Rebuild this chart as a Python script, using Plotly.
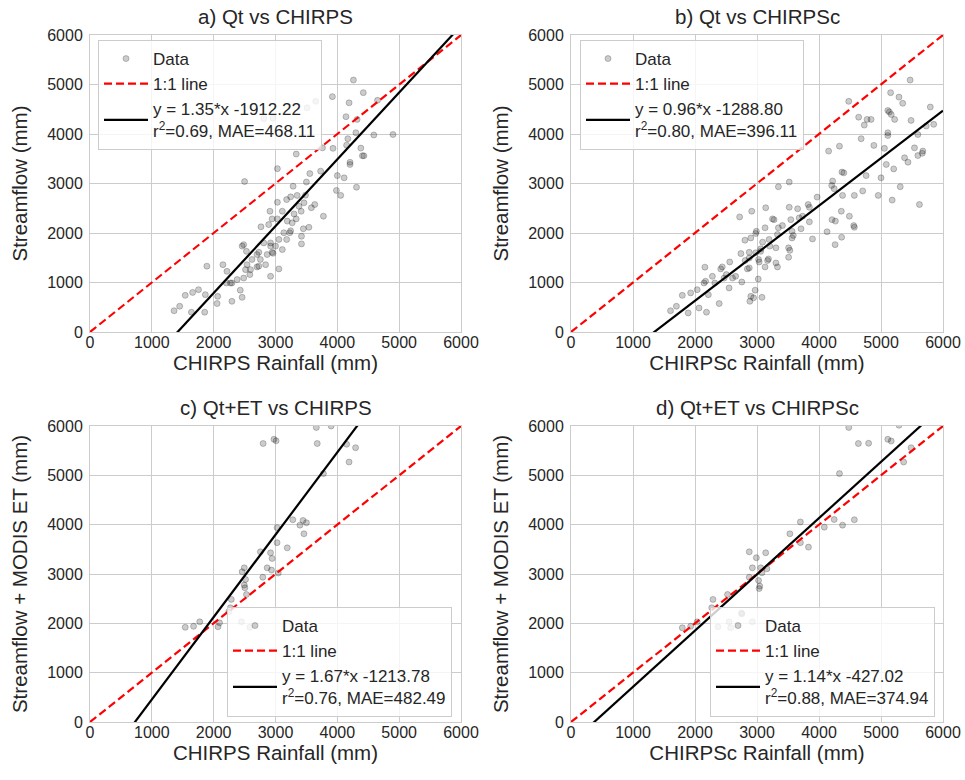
import plotly.graph_objects as go
from plotly.subplots import make_subplots

# a) Qt vs CHIRPS  (rainfall, streamflow)
a_rain = [4260, 4420, 3920, 3650, 3510, 4190, 4650, 4140, 4320, 2810, 2960, 4590, 4900, 4300, 4170,
          3760, 3930, 4150, 4380, 4405, 4430, 3335, 3030, 4205, 4205, 4000, 4110, 3555, 3730, 2500,
          4310, 3985, 4055, 3500, 3285, 3350, 3245, 3180, 3030, 3485, 3460, 3380, 3415, 3635, 3580,
          3775, 2910, 3110, 3300, 3335, 3190, 3270, 3030, 2945, 2890, 2765, 3540, 3450, 3245, 3230,
          3135, 3420, 3055, 3180, 2920, 2810, 2920, 3000, 3420, 3110, 2945, 2865, 2730, 2700, 2485,
          2460, 2530, 2620, 2755, 2840, 2700, 2960, 2540, 2515, 2585, 2485, 2595, 2730, 3055, 2920,
          2215, 2150, 1890, 2380, 2270, 2205, 2295, 2430, 2460, 2295, 2065, 2055, 1865, 1755, 1660,
          1540, 1450, 1360, 1640, 1855]
a_flow = [5090, 4835, 4755, 4660, 4530, 4630, 4680, 4350, 4295, 4310, 4320, 3980, 3990, 4025, 3905,
          3720, 3710, 3775, 3715, 3560, 3560, 3595, 3300, 3430, 3385, 3160, 3115, 3200, 3250, 3040,
          2925, 2860, 2760, 3030, 2945, 2760, 2730, 2675, 2620, 2765, 2610, 2540, 2440, 2575, 2510,
          2340, 2440, 2440, 2385, 2285, 2240, 2205, 2285, 2285, 2170, 2125, 2115, 2085, 2045, 2005,
          2005, 1935, 1870, 1870, 1800, 1800, 1735, 1735, 1780, 1665, 1610, 1565, 1610, 1565, 1765,
          1735, 1630, 1465, 1465, 1360, 1315, 1590, 1360, 1260, 1160, 1090, 1260, 1330, 1275, 1125,
          1225, 1360, 1330, 1060, 990, 990, 990, 845, 700, 620, 720, 575, 755, 855, 800,
          740, 520, 430, 400, 400]

# b) Qt vs CHIRPSc
b_rain = [5470, 5155, 5290, 5350, 4480, 5110, 5135, 5165, 5220, 5795, 4640, 4840, 4775, 4730, 5485,
          5850, 5730, 5110, 5110, 5595, 4680, 4330, 4155, 4885, 5055, 5540, 5675, 5665, 5595, 5380,
          5435, 5085, 5205, 4370, 4400, 4760, 5000, 4220, 4205, 3520, 3345, 5310, 5620, 5180, 4955,
          4705, 4570, 4380, 4245, 3970, 3825, 3845, 3655, 3520, 3735, 3845, 3680, 3545, 3275, 2915,
          3140, 2720, 4360, 4210, 4265, 4490, 4560, 4570, 4130, 4365, 4260, 3895, 3710, 3565, 3565,
          3585, 3410, 3345, 3330, 3250, 3130, 2990, 2980, 2900, 2805, 3195, 3090, 3060, 3060, 2980,
          2875, 2740, 3205, 3510, 3530, 3305, 3025, 3035, 3185, 3170, 3130, 3305, 3330, 3510, 2875,
          2810, 2560, 2440, 2415, 2505, 2280, 2160, 2655, 2875, 2845, 2755, 2605, 2470, 2550, 2320,
          2215, 2170, 2145, 2035, 1930, 1795, 1700, 1605, 1890, 2185, 2065, 2390, 2900, 2970, 2945,
          3080, 2885, 3020]
b_flow = [5090, 4835, 4745, 4620, 4660, 4475, 4445, 4395, 4295, 4545, 4340, 4295, 4295, 4180, 4275,
          4195, 4160, 4025, 3970, 3990, 3905, 3755, 3655, 3770, 3710, 3720, 3655, 3610, 3565, 3520,
          3430, 3385, 3295, 3230, 3215, 3160, 3115, 3050, 2960, 3030, 2935, 2935, 2575, 2665, 2760,
          2850, 2760, 2760, 2895, 2725, 2575, 2520, 2490, 2520, 2340, 2225, 2305, 2270, 2270, 2440,
          2510, 2325, 2440, 2270, 2240, 2340, 2150, 2115, 2025, 1915, 1765, 1880, 2085, 2035, 1900,
          1950, 2150, 2105, 1970, 2285, 2105, 2035, 1990, 1900, 1855, 1870, 1815, 1680, 1630, 1600,
          1610, 1585, 1735, 1700, 1650, 1700, 1465, 1415, 1475, 1445, 1315, 1395, 1315, 1510, 1495,
          1445, 1415, 1315, 1275, 1160, 1125, 1310, 1125, 1295, 1275, 1010, 1090, 1090, 890, 990,
          755, 1025, 990, 855, 790, 740, 520, 430, 385, 400, 485, 575, 720, 845, 690,
          700, 620, 1070]

# c) Qt+ET vs CHIRPS
c_rain = [3660, 3900, 2800, 2975, 3010, 3675, 4150, 4295, 4190, 3775, 3280, 3445, 3395, 3500, 3460,
          3025, 3025, 3190, 2755, 2920, 2945, 2865, 2935, 3045, 2795, 2495, 2460, 2515, 2495, 2505,
          2530, 2285, 2270, 2245, 2095, 2070, 1775, 1675, 1540, 2450, 2585]
c_flow = [5970, 6000, 5645, 5730, 5700, 5645, 5630, 5560, 5270, 5035, 4100, 4085, 3990, 4040, 3815,
          3940, 3635, 3530, 3450, 3430, 3315, 3125, 3080, 3020, 2935, 3125, 3045, 2890, 2775, 2720,
          2585, 2485, 2315, 2235, 2010, 1930, 2030, 1940, 1920, 2030, 1920]

# d) Qt+ET vs CHIRPSc
d_rain = [4480, 5290, 4635, 4800, 5110, 5165, 5485, 5365, 4330, 3700, 4245, 4570, 4085, 4380, 3530,
          3700, 3830, 2875, 3140, 2990, 2925, 3060, 3160, 3080, 2875, 3025, 3045, 3035, 2525, 2290,
          2270, 2750, 2755, 1795, 1930, 2035, 2370, 2575, 2550, 2925]
d_flow = [5970, 6015, 5645, 5650, 5730, 5695, 5560, 5270, 5035, 4055, 4105, 4100, 3950, 3990, 3815,
          3635, 3545, 3450, 3430, 3330, 3125, 3125, 3105, 3025, 2935, 2870, 2755, 2705, 2585, 2485,
          2315, 2210, 2190, 1910, 1940, 2030, 1930, 1910, 2030, 2030]

titles = ["a) Qt vs CHIRPS", "b) Qt vs CHIRPSc", "c) Qt+ET vs CHIRPS", "d) Qt+ET vs CHIRPSc"]
x_titles = ["CHIRPS Rainfall (mm)", "CHIRPSc Rainfall (mm)", "CHIRPS Rainfall (mm)", "CHIRPSc Rainfall (mm)"]
y_titles = ["Streamflow (mm)", "Streamflow (mm)", "Streamflow + MODIS ET (mm)", "Streamflow + MODIS ET (mm)"]
slopes = [1.35, 0.96, 1.67, 1.14]
intercepts = [-1912.22, -1288.80, -1213.78, -427.02]
r2 = [0.69, 0.80, 0.76, 0.88]
mae = [468.11, 396.11, 482.49, 374.94]
ticks = [0, 1000, 2000, 3000, 4000, 5000, 6000]
line_x = [0, 6000]

panels = [(a_rain, a_flow), (b_rain, b_flow), (c_rain, c_flow), (d_rain, d_flow)]
pos = [(1, 1), (1, 2), (2, 1), (2, 2)]
legend_ids = ["legend", "legend2", "legend3", "legend4"]

W, H = 965, 780
x_dom = [[90 / W, 461 / W], [571 / W, 943 / W]]
y_dom = [[(H - 332) / H, (H - 35) / H], [(H - 722) / H, (H - 426) / H]]

FONT = "Liberation Sans, Arial, sans-serif"
TXT = "#262626"
GRID = "#cccccc"

fig = make_subplots(rows=2, cols=2)

for i, ((xs, ys), (r, c)) in enumerate(zip(panels, pos)):
    lg = legend_ids[i]
    fig.add_trace(go.Scatter(
        x=xs, y=ys, mode="markers", name="Data", legend=lg,
        marker=dict(size=6, color="rgba(0,0,0,0.2)",
                    line=dict(width=1, color="rgba(0,0,0,0.22)")),
    ), row=r, col=c)
    fig.add_trace(go.Scatter(
        x=line_x, y=line_x, mode="lines", name="1:1 line", legend=lg,
        line=dict(color="red", width=2.2, dash="8px,4px"),
    ), row=r, col=c)
    fit_y = [slopes[i] * v + intercepts[i] for v in line_x]
    label = (f"y = {slopes[i]:.2f}*x {intercepts[i]:.2f}<br>"
             f"r<sup>2</sup>={r2[i]:.2f}, MAE={mae[i]:.2f}")
    fig.add_trace(go.Scatter(
        x=line_x, y=fit_y, mode="lines", name=label, legend=lg,
        line=dict(color="black", width=2.2),
    ), row=r, col=c)

    xd = x_dom[c - 1]
    yd = y_dom[r - 1]
    ax = dict(range=[0, 6000], tickvals=ticks, showgrid=True, gridcolor=GRID, gridwidth=1,
              showline=True, mirror=True, linecolor=GRID, linewidth=1, zeroline=False,
              ticks="", automargin=False, tickfont=dict(size=16, color=TXT, family=FONT))
    fig.update_xaxes(ax, domain=xd, row=r, col=c, ticklabelstandoff=-4,
                     title=dict(text=x_titles[i], font=dict(size=20.5, color=TXT, family=FONT), standoff=0))
    fig.update_yaxes(ax, domain=yd, row=r, col=c, ticklabelstandoff=3,
                     title=dict(text=y_titles[i], font=dict(size=20.5, color=TXT, family=FONT), standoff=14))

    fig.add_annotation(text=titles[i], xref="paper", yref="paper",
                       x=(xd[0] + xd[1]) / 2, y=yd[1], xanchor="center", yanchor="bottom",
                       yshift=5, showarrow=False, font=dict(size=20.5, color=TXT, family=FONT))

leg = dict(bgcolor="rgba(255,255,255,0.8)", bordercolor=GRID, borderwidth=1, itemwidth=44,
           font=dict(size=17, color=TXT, family=FONT))
fig.update_layout(
    width=W, height=H,
    margin=dict(l=0, r=0, t=0, b=0, autoexpand=False),
    paper_bgcolor="white", plot_bgcolor="white",
    font=dict(family=FONT, color=TXT),
    legend=dict(leg, x=98 / W, y=(H - 40) / H, xanchor="left", yanchor="top"),
    legend2=dict(leg, x=580 / W, y=(H - 40) / H, xanchor="left", yanchor="top"),
    legend3=dict(leg, x=452 / W, y=(H - 717) / H, xanchor="right", yanchor="bottom"),
    legend4=dict(leg, x=935 / W, y=(H - 717) / H, xanchor="right", yanchor="bottom"),
)

# page body has a default 8px margin; drop it so the figure sits at the window corner
fig.write_html("out.html", config={"displayModeBar": False},
               post_script="document.body.style.margin = '0px';")
